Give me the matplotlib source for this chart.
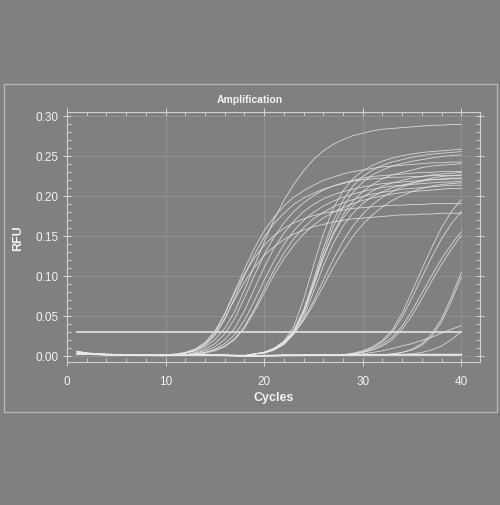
import matplotlib
matplotlib.use("Agg")
import matplotlib.pyplot as plt
from matplotlib.ticker import MultipleLocator
from matplotlib.patches import Rectangle

plt.rcParams['font.family'] = ['Liberation Sans', 'DejaVu Sans']

cycles = list(range(1, 41))
threshold = 0.03

# baselines (cycle 1..40), also drawn as the flat / negative wells
base_a = [0.005, 0.003, 0.002, 0.0015, 0.001, 0.001, 0.001, 0.0008, 0.0005, 0.0005,
          0.0005, 0.0008, 0.001, 0.001, 0.0008, 0.0005, 0.0, -0.0005, -0.0005, 0.0,
          0.0, 0.0005, 0.0005, 0.0005, 0.0008, 0.001, 0.001, 0.001, 0.001, 0.001,
          0.001, 0.001, 0.001, 0.001, 0.001, 0.001, 0.001, 0.001, 0.001, 0.001]
base_b = [0.002, 0.002, 0.0015, 0.001, 0.001, 0.0008, 0.0005, 0.0005, 0.0003, 0.0003,
          0.0005, 0.0005, 0.0008, 0.0008, 0.0005, 0.0003, 0.0, 0.0, -0.0003, -0.0003,
          0.0, 0.0003, 0.0003, 0.0005, 0.0005, 0.0008, 0.0008, 0.0008, 0.001, 0.001,
          0.001, 0.001, 0.0012, 0.0012, 0.0012, 0.0012, 0.0012, 0.0012, 0.0012, 0.0012]

# rising part of each well, last value = cycle 40
g1_a = [0.002, 0.003, 0.006, 0.011, 0.02, 0.034, 0.055, 0.082, 0.112, 0.142, 0.17, 0.194, 0.214, 0.231, 0.245,
        0.256, 0.264, 0.27, 0.275, 0.278, 0.281, 0.283, 0.284, 0.285, 0.286, 0.287, 0.288, 0.288, 0.289, 0.289]
g1_b = [0.001, 0.002, 0.004, 0.008, 0.016, 0.03, 0.052, 0.08, 0.108, 0.134, 0.156, 0.173, 0.187, 0.198, 0.206,
        0.213, 0.219, 0.223, 0.227, 0.23, 0.232, 0.234, 0.236, 0.237, 0.238, 0.239, 0.24, 0.241, 0.241, 0.242, 0.242]
g1_c = [0.003, 0.006, 0.013, 0.025, 0.045, 0.072, 0.1, 0.126, 0.148, 0.165, 0.178, 0.189, 0.197, 0.203, 0.208,
        0.212, 0.215, 0.218, 0.22, 0.221, 0.222, 0.223, 0.223, 0.224, 0.224, 0.225, 0.225, 0.225, 0.225]
g1_d = [0.004, 0.008, 0.016, 0.03, 0.052, 0.078, 0.102, 0.122, 0.138, 0.15, 0.159, 0.166, 0.171, 0.175, 0.178,
        0.18, 0.182, 0.184, 0.185, 0.186, 0.187, 0.188, 0.188, 0.189, 0.189, 0.19, 0.19, 0.19, 0.19]
g1_e = [0.003, 0.007, 0.014, 0.027, 0.047, 0.07, 0.092, 0.11, 0.125, 0.136, 0.145, 0.152, 0.157, 0.161, 0.164,
        0.167, 0.169, 0.171, 0.172, 0.173, 0.174, 0.175, 0.176, 0.176, 0.177, 0.177, 0.178, 0.178, 0.178]
g1_f = [0.004, 0.008, 0.015, 0.027, 0.046, 0.072, 0.1, 0.126, 0.148, 0.166, 0.18, 0.191, 0.2, 0.207, 0.212,
        0.216, 0.219, 0.222, 0.224, 0.225, 0.226, 0.227, 0.228, 0.229, 0.229, 0.23, 0.23, 0.23]
g1_g = [0.003, 0.006, 0.011, 0.02, 0.034, 0.056, 0.083, 0.11, 0.134, 0.153, 0.168, 0.18, 0.189, 0.196, 0.201,
        0.205, 0.208, 0.211, 0.213, 0.215, 0.216, 0.217, 0.218, 0.219, 0.22, 0.22, 0.221, 0.221]
g1_h = [0.002, 0.004, 0.008, 0.015, 0.026, 0.044, 0.068, 0.094, 0.118, 0.139, 0.156, 0.169, 0.179, 0.187, 0.193,
        0.198, 0.202, 0.205, 0.208, 0.21, 0.212, 0.213, 0.214, 0.215, 0.216, 0.217, 0.217, 0.218]
g1_i = [0.002, 0.004, 0.007, 0.012, 0.021, 0.036, 0.058, 0.083, 0.107, 0.128, 0.146, 0.16, 0.171, 0.179, 0.186,
        0.191, 0.195, 0.199, 0.202, 0.204, 0.206, 0.208, 0.209, 0.21, 0.211, 0.212, 0.213, 0.213]
g1_j = [0.003, 0.006, 0.011, 0.02, 0.034, 0.055, 0.078, 0.101, 0.121, 0.138, 0.152, 0.163, 0.172, 0.179, 0.185,
        0.19, 0.194, 0.197, 0.2, 0.202, 0.204, 0.205, 0.206, 0.207, 0.208, 0.209, 0.209]

g2_a = [0.002, 0.004, 0.009, 0.018, 0.036, 0.07, 0.112, 0.152, 0.184, 0.206, 0.221, 0.231, 0.238, 0.243, 0.247,
        0.25, 0.252, 0.254, 0.255, 0.256, 0.257, 0.258]
g2_b = [0.002, 0.004, 0.009, 0.017, 0.031, 0.057, 0.094, 0.134, 0.168, 0.194, 0.212, 0.224, 0.232, 0.238, 0.242,
        0.245, 0.248, 0.25, 0.252, 0.253, 0.254, 0.255]
g2_c = [0.002, 0.004, 0.008, 0.016, 0.03, 0.054, 0.09, 0.128, 0.161, 0.186, 0.204, 0.217, 0.226, 0.232, 0.237,
        0.24, 0.243, 0.245, 0.247, 0.249, 0.25, 0.251]
g2_d = [0.002, 0.004, 0.008, 0.015, 0.029, 0.052, 0.086, 0.122, 0.153, 0.176, 0.193, 0.205, 0.214, 0.221, 0.226,
        0.229, 0.232, 0.235, 0.237, 0.238, 0.239, 0.24]
g2_e = [0.002, 0.004, 0.009, 0.017, 0.031, 0.056, 0.089, 0.123, 0.151, 0.172, 0.187, 0.198, 0.206, 0.212, 0.216,
        0.219, 0.222, 0.224, 0.226, 0.227, 0.228, 0.229]
g2_f = [0.002, 0.003, 0.007, 0.014, 0.027, 0.045, 0.068, 0.094, 0.12, 0.143, 0.162, 0.177, 0.189, 0.198, 0.205,
        0.211, 0.215, 0.219, 0.222, 0.224, 0.225, 0.226]
g2_g = [0.002, 0.003, 0.007, 0.014, 0.027, 0.048, 0.079, 0.112, 0.14, 0.162, 0.178, 0.19, 0.199, 0.205, 0.21,
        0.213, 0.216, 0.218, 0.22, 0.221, 0.222, 0.222]
g2_h = [0.002, 0.004, 0.008, 0.015, 0.028, 0.044, 0.064, 0.087, 0.11, 0.131, 0.149, 0.164, 0.176, 0.186, 0.194,
        0.2, 0.205, 0.209, 0.212, 0.214, 0.215, 0.216]

g3_a = [0.001, 0.003, 0.006, 0.011, 0.019, 0.032, 0.053, 0.08, 0.108, 0.135, 0.16, 0.18, 0.195]
g3_b = [0.001, 0.002, 0.005, 0.01, 0.017, 0.029, 0.048, 0.072, 0.098, 0.123, 0.146, 0.165, 0.18]
g3_c = [0.001, 0.002, 0.004, 0.008, 0.014, 0.023, 0.037, 0.056, 0.078, 0.1, 0.121, 0.139, 0.155]
g3_d = [0.001, 0.002, 0.004, 0.007, 0.012, 0.02, 0.033, 0.05, 0.071, 0.093, 0.114, 0.133, 0.15]

g4_a = [0.002, 0.004, 0.008, 0.015, 0.027, 0.046, 0.073, 0.104]
g4_b = [0.002, 0.004, 0.007, 0.013, 0.024, 0.042, 0.068, 0.098]
g5_a = [0.002, 0.004, 0.006, 0.009, 0.012, 0.015, 0.019, 0.023, 0.028, 0.033, 0.0375]
g5_b = [0.002, 0.004, 0.007, 0.012, 0.02, 0.03]

rises = [g1_a, g1_b, g1_c, g1_d, g1_e, g1_f, g1_g, g1_h, g1_i, g1_j,
         g2_a, g2_b, g2_c, g2_d, g2_e, g2_f, g2_g, g2_h,
         g3_a, g3_b, g3_c, g3_d, g4_a, g4_b, g5_a, g5_b]

BG = '#808080'
LINE = '#e8e8e8'
TXT = '#f2f2f2'


def full(rise, base):
    return base[:40 - len(rise)] + rise


fig = plt.figure(figsize=(5, 5.06), dpi=100, facecolor=BG)
fig.patches.append(Rectangle((4 / 500, 93 / 506), 493 / 500, 328 / 506, transform=fig.transFigure,
                             fill=False, edgecolor='#b4b4b4', lw=1.0))

ax = fig.add_axes([0.134, 0.2826, 0.826, 0.494])
ax.set_facecolor(BG)

for b in (base_a, base_b):
    ax.plot(cycles, b, color=LINE, lw=1.2)
for i, r in enumerate(rises):
    base = base_a if i % 2 == 0 else base_b
    ax.plot(cycles, full(r, base), color=LINE, lw=0.6, alpha=0.85)

ax.plot([cycles[0], cycles[-1]], [threshold, threshold], color='#dcdcdc', lw=1.3)

ax.set_xlim(0, 41.9)
ax.set_ylim(-0.008, 0.3045)
ax.xaxis.set_major_locator(MultipleLocator(10))
ax.xaxis.set_minor_locator(MultipleLocator(2))
ax.yaxis.set_major_locator(MultipleLocator(0.05))
ax.yaxis.set_minor_locator(MultipleLocator(0.01))
ax.yaxis.set_major_formatter(plt.FuncFormatter(lambda v, p: f'{v:.2f}'))

ax.grid(True, which='major', color='#939393', lw=0.6)
for s in ax.spines.values():
    s.set_color('#d0d0d0')
    s.set_linewidth(0.8)

ax.tick_params(which='major', direction='inout', length=6, width=0.7, color='#d8d8d8',
               top=True, right=True, labelcolor=TXT, labelsize=8.5, pad=3)
ax.tick_params(which='minor', direction='in', length=3, width=0.6, color='#d8d8d8',
               top=True, right=True)
ax.tick_params(axis='x', pad=6)

ax.set_xlabel('Cycles', color=TXT, fontsize=9, fontweight='bold', labelpad=3)
ax.set_ylabel('RFU', color=TXT, fontsize=9, fontweight='bold', labelpad=8)
fig.text(0.5, 1 - 100 / 506, 'Amplification', color=TXT, fontsize=7.5, fontweight='bold',
         ha='center', va='center')

fig.savefig('out.png', dpi=100, facecolor=BG)
